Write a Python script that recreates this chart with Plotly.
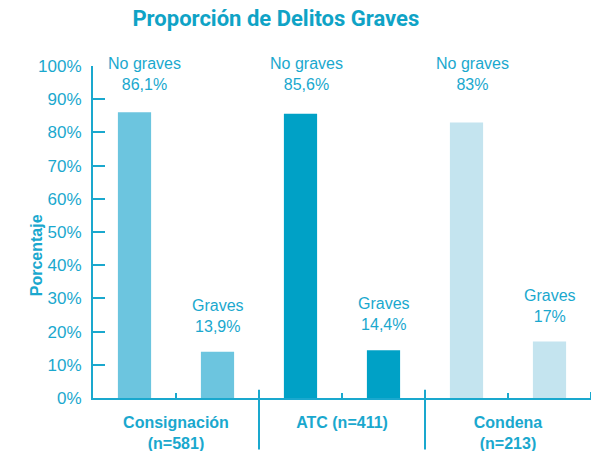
import plotly.graph_objects as go

# datos
grupos = ["Consignación<br>(n=581)", "ATC (n=411)", "Condena<br>(n=213)"]
no_graves = [86.1, 85.6, 83]
graves = [13.9, 14.4, 17]
etiq_no_graves = ["86,1%", "85,6%", "83%"]
etiq_graves = ["13,9%", "14,4%", "17%"]
colores = ["#6CC5DF", "#00A1C6", "#C4E4EF"]

azul = "#1AA8CE"
fuente = "Liberation Sans, Arial, sans-serif"

# dos barras por grupo: posiciones 0..5
xs, ys, cols = [], [], []
for i in range(len(grupos)):
    xs += [2 * i, 2 * i + 1]
    ys += [no_graves[i], graves[i]]
    cols += [colores[i], colores[i]]

fig = go.Figure(go.Bar(x=xs, y=ys, marker=dict(color=cols, line=dict(width=0)),
                       width=0.4, hoverinfo="skip"))

anots = []
for i in range(len(grupos)):
    anots.append(dict(x=2 * i, y=97.5, text="No graves<br>" + etiq_no_graves[i],
                      showarrow=False, xshift=10 if i == 0 else 6,
                      font=dict(size=16, color=azul, family=fuente)))
    anots.append(dict(x=2 * i + 1, y=graves[i], yanchor="bottom", yshift=15,
                      text="Graves<br>" + etiq_graves[i], showarrow=False,
                      font=dict(size=16, color=azul, family=fuente)))
anots.append(dict(x=0, xref="paper", xanchor="center", xshift=-57,
                  y=0.43, yref="paper", yanchor="middle",
                  text="<b>Porcentaje</b>", textangle=-90, showarrow=False,
                  font=dict(size=16, color=azul, family=fuente)))

# separadores entre grupos y marca final
shapes = []
for xv in [1.5, 3.5]:
    shapes.append(dict(type="line", x0=xv, x1=xv, xref="x", yref="paper",
                       y0=-0.155, y1=0.025, line=dict(color=azul, width=2)))
shapes.append(dict(type="line", x0=5.5, x1=5.5, xref="x", yref="paper",
                   y0=0, y1=0.018, line=dict(color=azul, width=2)))

fig.update_layout(
    width=605, height=451,
    margin=dict(l=93, r=14, t=66, b=53),
    paper_bgcolor="white", plot_bgcolor="white",
    showlegend=False,
    title=dict(text="<b>Proporción de Delitos Graves</b>", x=0.456, xanchor="center",
               y=0.96, yanchor="middle",
               font=dict(size=22, color="#0FA3C6", family="Roboto, Arial, sans-serif")),
    xaxis=dict(range=[-0.5, 5.5], tickvals=[0.5, 2.5, 4.5], ticktext=grupos,
               ticks="inside", ticklen=5, tickwidth=2, tickcolor=azul,
               showline=True, linecolor=azul, linewidth=2, showgrid=False,
               zeroline=False, automargin=False, ticklabelstandoff=9,
               tickfont=dict(size=16, color=azul, family=fuente, weight="bold")),
    yaxis=dict(range=[0, 100], tickvals=list(range(0, 101, 10)),
               ticktext=[f"{v}%" for v in range(0, 101, 10)],
               ticks="inside", ticklen=12, tickwidth=2, tickcolor=azul,
               showline=True, linecolor=azul, linewidth=2, showgrid=False,
               zeroline=False, automargin=False, ticklabelstandoff=6,
               tickfont=dict(size=17, color=azul, family=fuente)),
    annotations=anots,
    shapes=shapes,
)

# quitar el margen del body para que la figura ocupe la ventana exacta
fig.write_html("out.html", config={"displayModeBar": False},
               post_script="document.body.style.margin='0';")
